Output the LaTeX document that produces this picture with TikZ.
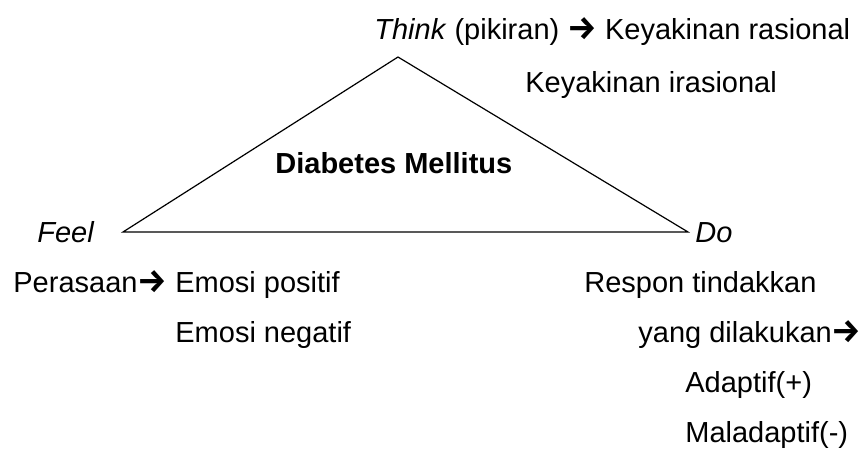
\documentclass[tikz,border=0pt]{standalone}
\usepackage{fontspec}
\setmainfont{Liberation Sans}
\newfontfamily\arrowfont{Fira Sans}
\newcommand{\rarr}{{\arrowfont\fontsize{16.5}{17}\selectfont\bfseries →}}
\begin{document}
\begin{tikzpicture}[x=0.5pt,y=-0.5pt,
  lbl/.style={anchor=base west,inner sep=0pt,font=\fontsize{14.5}{17}\selectfont},
  edge/.style={draw=black,line width=0.6pt,line join=miter}]
\useasboundingbox (0,0) rectangle (864,450);
\coordinate (T) at (398,57);
\coordinate (L) at (123,232);
\coordinate (R) at (688,232);
\draw[edge] (T) -- (L) -- (R) -- cycle;
\node[lbl] (think) at (374,39) {\textit{Think} (pikiran) \rarr\ Keyakinan rasional};
\node[lbl] (irr) at (525,92) {Keyakinan irasional};
\node[lbl,font=\fontsize{14.5}{17}\selectfont\bfseries] (dm) at (275,173) {Diabetes Mellitus};
\node[lbl] (feel) at (37,242) {\textit{Feel}};
\node[lbl] (do) at (695,242) {\textit{Do}};
\node[lbl] (per) at (13,292) {Perasaan\rarr\ Emosi positif};
\node[lbl] (neg) at (175,342) {Emosi negatif};
\node[lbl] (resp) at (584,292) {Respon tindakkan};
\node[lbl] (yang) at (638,342) {yang dilakukan\rarr};
\node[lbl] (ad) at (685,392) {Adaptif(+)};
\node[lbl] (mal) at (685,442) {Maladaptif(-)};
\end{tikzpicture}
\end{document}
